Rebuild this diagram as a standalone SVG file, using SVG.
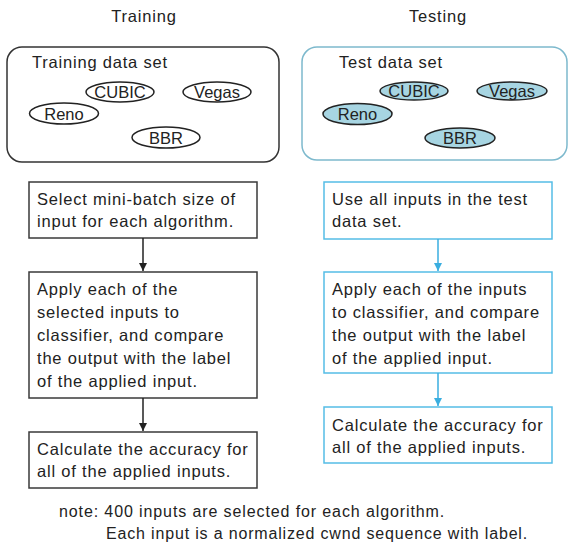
<svg xmlns="http://www.w3.org/2000/svg" width="569" height="545" viewBox="0 0 569 545">
<defs>
<style>
text{font-family:"Liberation Sans",Arial,sans-serif;fill:#222;}
.t{font-size:16.5px;letter-spacing:0.8px;}
.e{font-size:16.5px;text-anchor:middle;}
.n{font-size:16px;letter-spacing:0.8px;}
.bk{fill:#fff;stroke:#3a3a3a;stroke-width:1.5;}
.bl{fill:#fff;stroke:#55bde6;stroke-width:1.5;}
.elk{fill:#fff;stroke:#222;stroke-width:1.5;}
.elb{fill:#a7d5e2;stroke:#222;stroke-width:1.5;}
.ck{stroke:#222;stroke-width:1.5;fill:none;}
.cb{stroke:#3aaee0;stroke-width:1.5;fill:none;}
</style>
<marker id="ak" markerUnits="userSpaceOnUse" markerWidth="9" markerHeight="9" refX="8" refY="4" orient="auto"><path d="M0,0 L8,4 L0,8 z" fill="#222"/></marker>
<marker id="ab" markerUnits="userSpaceOnUse" markerWidth="9" markerHeight="9" refX="8" refY="4" orient="auto"><path d="M0,0 L8,4 L0,8 z" fill="#3aaee0"/></marker>
</defs>
<rect width="569" height="545" fill="#fff"/>

<g id="title-training"><text class="t" x="144" y="22" text-anchor="middle">Training</text></g>
<g id="title-testing"><text class="t" x="438" y="22" text-anchor="middle">Testing</text></g>

<g id="training-set">
<rect x="7" y="47" width="272" height="115" rx="15" fill="#fff" stroke="#333" stroke-width="1.5"/>
<text class="t" x="32" y="68">Training data set</text>
<g id="train-cubic"><ellipse class="elk" cx="120" cy="92" rx="34" ry="10"/><text class="e" x="120" y="98">CUBIC</text></g>
<g id="train-vegas"><ellipse class="elk" cx="217" cy="92" rx="34" ry="10"/><text class="e" x="217" y="98">Vegas</text></g>
<g id="train-reno"><ellipse class="elk" cx="64" cy="113.5" rx="34.5" ry="10.5"/><text class="e" x="64" y="119.5">Reno</text></g>
<g id="train-bbr"><ellipse class="elk" cx="166" cy="137.5" rx="34" ry="10.5"/><text class="e" x="166" y="143.5">BBR</text></g>
</g>

<g id="testing-set">
<rect x="302" y="47" width="265" height="113" rx="15" fill="#fff" stroke="#7db9cd" stroke-width="1.5"/>
<text class="t" x="339" y="68">Test data set</text>
<g id="test-cubic"><ellipse class="elb" cx="414" cy="91" rx="34" ry="9"/><text class="e" x="414" y="97">CUBIC</text></g>
<g id="test-vegas"><ellipse class="elb" cx="512" cy="91" rx="35" ry="9"/><text class="e" x="512" y="97">Vegas</text></g>
<g id="test-reno"><ellipse class="elb" cx="357.5" cy="114" rx="34.5" ry="10.5"/><text class="e" x="357.5" y="120">Reno</text></g>
<g id="test-bbr"><ellipse class="elb" cx="460" cy="138" rx="35" ry="10"/><text class="e" x="460" y="144">BBR</text></g>
</g>

<g id="train-step1">
<rect class="bk" x="29" y="182" width="228" height="56"/>
<text class="t" x="37" y="205">Select mini-batch size of</text>
<text class="t" x="37" y="227">input for each algorithm.</text>
</g>
<g id="train-step2">
<rect class="bk" x="29" y="272" width="228" height="126"/>
<text class="t" x="37" y="295">Apply each of the</text>
<text class="t" x="37" y="318">selected inputs to</text>
<text class="t" x="37" y="341">classifier, and compare</text>
<text class="t" x="37" y="364">the output with the label</text>
<text class="t" x="37" y="387">of the applied input.</text>
</g>
<g id="train-step3">
<rect class="bk" x="29" y="432" width="228" height="56"/>
<text class="t" x="37" y="455">Calculate the accuracy for</text>
<text class="t" x="37" y="477">all of the applied inputs.</text>
</g>

<g id="test-step1">
<rect class="bl" x="324" y="182" width="228" height="57"/>
<text class="t" x="332" y="205">Use all inputs in the test</text>
<text class="t" x="332" y="227">data set.</text>
</g>
<g id="test-step2">
<rect class="bl" x="324" y="272" width="228" height="101"/>
<text class="t" x="332" y="295">Apply each of the inputs</text>
<text class="t" x="332" y="318">to classifier, and compare</text>
<text class="t" x="332" y="341">the output with the label</text>
<text class="t" x="332" y="364">of the applied input.</text>
</g>
<g id="test-step3">
<rect class="bl" x="324" y="407" width="228" height="56"/>
<text class="t" x="332" y="431">Calculate the accuracy for</text>
<text class="t" x="332" y="453">all of the applied inputs.</text>
</g>

<g id="connectors">
<line class="ck" x1="143" y1="238" x2="143" y2="271" marker-end="url(#ak)"/>
<line class="ck" x1="143" y1="398" x2="143" y2="431" marker-end="url(#ak)"/>
<line class="cb" x1="438" y1="239" x2="438" y2="271" marker-end="url(#ab)"/>
<line class="cb" x1="438" y1="373" x2="438" y2="406" marker-end="url(#ab)"/>
</g>

<g id="note">
<text class="n" x="59" y="517" textLength="386" lengthAdjust="spacing">note: 400 inputs are selected for each algorithm.</text>
<text class="n" x="106" y="539" textLength="422" lengthAdjust="spacing">Each input is a normalized cwnd sequence with label.</text>
</g>
</svg>
